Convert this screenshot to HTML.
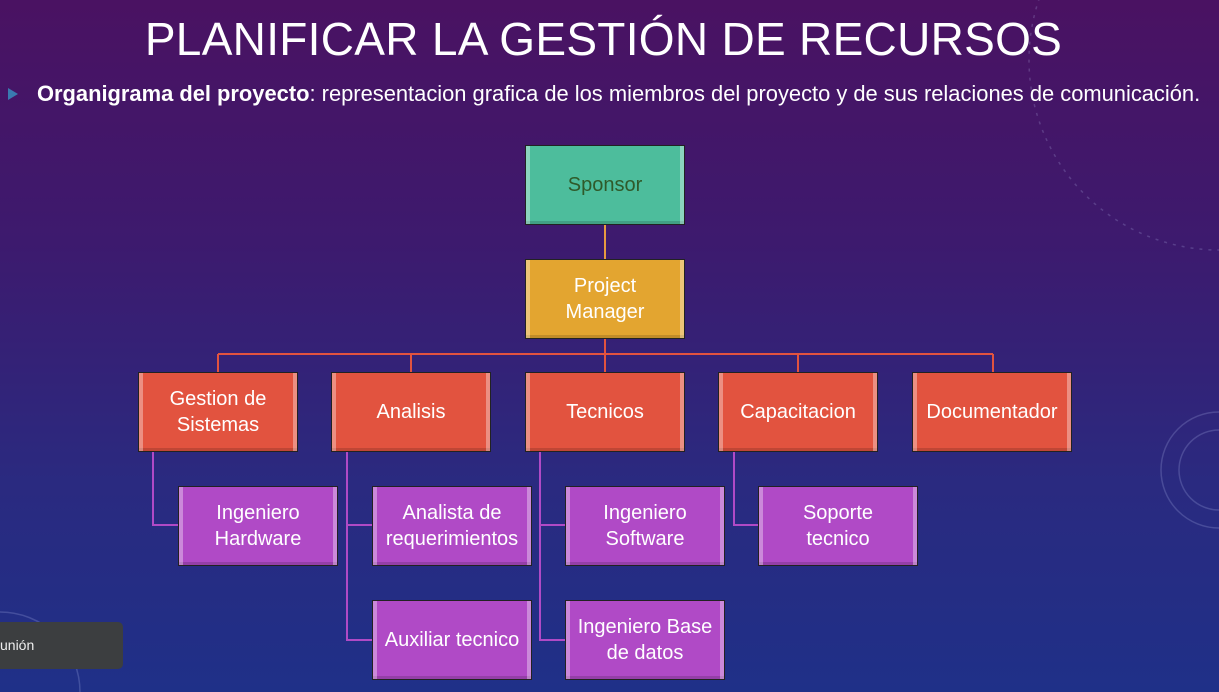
<!DOCTYPE html>
<html style="overflow:hidden"><head><style>
html,body{margin:0;width:1219px;height:692px;overflow:hidden}
body{position:relative;font-family:"Liberation Sans",sans-serif;
background:linear-gradient(180deg,#4a1262 0%,#3d1a6e 35%,#2a2a80 70%,#1f3088 100%);}
.t{position:absolute;left:0;width:1207px;text-align:center;top:12px;color:#fff;font-size:46px;letter-spacing:0.3px}
.s{position:absolute;left:37px;top:81px;color:#fff;font-size:21.9px;white-space:nowrap}
.b{position:absolute;width:160px;height:80px;border:1px solid #222;display:flex;align-items:center;justify-content:center;text-align:center;color:#fff;font-size:20px;line-height:26px;box-sizing:border-box;box-shadow:inset 4px 0 0 rgba(255,255,255,.35),inset -4px 0 0 rgba(255,255,255,.35),inset 0 -3px 0 rgba(0,0,0,.15)}
.g{background:#4dbd9c;color:#2f5a2a}
.y{background:#e3a530}
.r{background:#e2533f}
.p{background:#b04ac6}
.l{position:absolute}
</style></head><body>
<div class="t">PLANIFICAR LA GESTIÓN DE RECURSOS</div>
<div style="position:absolute;left:8px;top:88px;width:0;height:0;border-left:10px solid #3a7ab0;border-top:6px solid transparent;border-bottom:6px solid transparent"></div>
<div class="s"><b>Organigrama del proyecto</b>: representacion grafica de los miembros del proyecto y de sus relaciones de comunicación.</div>
<svg class="l" style="left:0;top:0" width="1219" height="692">
<g stroke="#e89a40" stroke-width="2"><line x1="605" y1="224" x2="605" y2="259"/></g>
<g stroke="#e2533f" stroke-width="2" fill="none">
<line x1="605" y1="338" x2="605" y2="372"/>
<line x1="218" y1="354" x2="993" y2="354"/>
<line x1="218" y1="354" x2="218" y2="372"/><line x1="411" y1="354" x2="411" y2="372"/>
<line x1="798" y1="354" x2="798" y2="372"/><line x1="993" y1="354" x2="993" y2="372"/>
</g>
<g stroke="#b04ac6" stroke-width="2" fill="none">
<polyline points="153,451 153,525 178,525"/>
<polyline points="347,451 347,640 372,640"/><line x1="347" y1="525" x2="372" y2="525"/>
<polyline points="540,451 540,640 565,640"/><line x1="540" y1="525" x2="565" y2="525"/>
<polyline points="734,451 734,525 758,525"/>
</g>
<g stroke="rgba(200,210,255,.2)" fill="none" stroke-width="1.5">
<circle cx="1219" cy="470" r="40"/><circle cx="1219" cy="470" r="58"/>
<circle cx="1219" cy="60" r="190" stroke-dasharray="3 6"/><circle cx="0" cy="692" r="80"/>
</g>
</svg>
<div class="b g" style="left:525px;top:145px">Sponsor</div>
<div class="b y" style="left:525px;top:259px">Project<br>Manager</div>
<div class="b r" style="left:138px;top:372px">Gestion de<br>Sistemas</div>
<div class="b r" style="left:331px;top:372px">Analisis</div>
<div class="b r" style="left:525px;top:372px">Tecnicos</div>
<div class="b r" style="left:718px;top:372px">Capacitacion</div>
<div class="b r" style="left:912px;top:372px">Documentador</div>
<div class="b p" style="left:178px;top:486px">Ingeniero<br>Hardware</div>
<div class="b p" style="left:372px;top:486px">Analista de<br>requerimientos</div>
<div class="b p" style="left:565px;top:486px">Ingeniero<br>Software</div>
<div class="b p" style="left:758px;top:486px">Soporte<br>tecnico</div>
<div class="b p" style="left:372px;top:600px">Auxiliar tecnico</div>
<div class="b p" style="left:565px;top:600px">Ingeniero Base<br>de datos</div>
<div style="position:absolute;left:0;top:622px;width:123px;height:47px;background:#3c3e40;border-radius:0 5px 5px 0;color:#eee;font-size:14px;line-height:47px;box-sizing:border-box">unión</div>
</body></html>
